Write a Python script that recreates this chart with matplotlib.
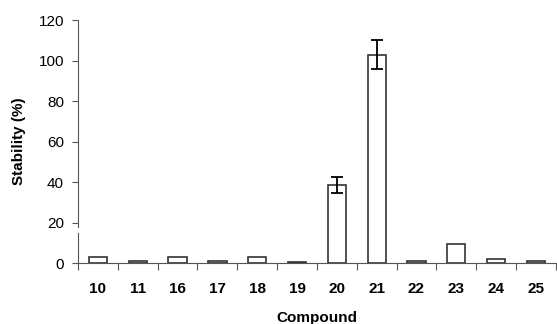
import matplotlib
matplotlib.use("Agg")
import matplotlib.pyplot as plt
import numpy as np

compounds = ["10", "11", "16", "17", "18", "19", "20", "21", "22", "23", "24", "25"]
stability = [3.1, 0.8, 3.1, 0.8, 3.2, 0.5, 38.5, 103.0, 1.1, 9.2, 2.1, 1.0]
errors = [0, 0, 0, 0, 0, 0, 3.8, 7.2, 0, 0, 0, 0]
yticks = [0, 20, 40, 60, 80, 100, 120]

plt.rcParams["font.family"] = ["Liberation Sans", "DejaVu Sans"]

fig = plt.figure(figsize=(5.57, 3.24), dpi=100)
ax = fig.add_axes([0.14, 0.188, 0.858, 0.750])

x = np.arange(len(compounds))
ax.bar(x, stability, width=0.46, color="white", edgecolor="#333333", linewidth=1.2, zorder=2)
has_err = [i for i, e in enumerate(errors) if e > 0]
ax.errorbar([x[i] for i in has_err], [stability[i] for i in has_err],
            yerr=[errors[i] for i in has_err], fmt="none", ecolor="black",
            elinewidth=1.3, capsize=4, capthick=1.3, zorder=3)

ax.set_xlim(-0.5, len(compounds) - 0.5)
ax.set_ylim(0, 120)

# x ticks at category boundaries, labels centred
ax.set_xticks(np.arange(-0.5, len(compounds)), minor=False)
ax.set_xticklabels([])
ax.set_xticks(x, minor=True)
ax.set_xticklabels(compounds, minor=True, fontweight="bold", fontsize=11)
ax.tick_params(axis="x", which="major", direction="out", length=5, color="#555555")
ax.tick_params(axis="x", which="minor", length=0, pad=13.5)

ax.set_yticks(yticks)
ax.set_yticklabels([str(v) for v in yticks], fontsize=11)
ax.tick_params(axis="y", direction="out", length=4, color="#555555", pad=6)

for s in ["top", "right"]:
    ax.spines[s].set_visible(False)
ax.spines["left"].set_color("#555555")
ax.spines["bottom"].set_color("#555555")
# small break in the y axis just below 20
ax.spines["left"].set_bounds(17.9, 120)
ax.plot([-0.5, -0.5], [0, 14.7], color="#555555", lw=0.8, clip_on=False, zorder=1)

ax.set_ylabel("Stability (%)", fontweight="bold", fontsize=11, labelpad=9)
ax.set_xlabel("Compound", fontweight="bold", fontsize=11, labelpad=11)

fig.savefig("out.png", dpi=100)
